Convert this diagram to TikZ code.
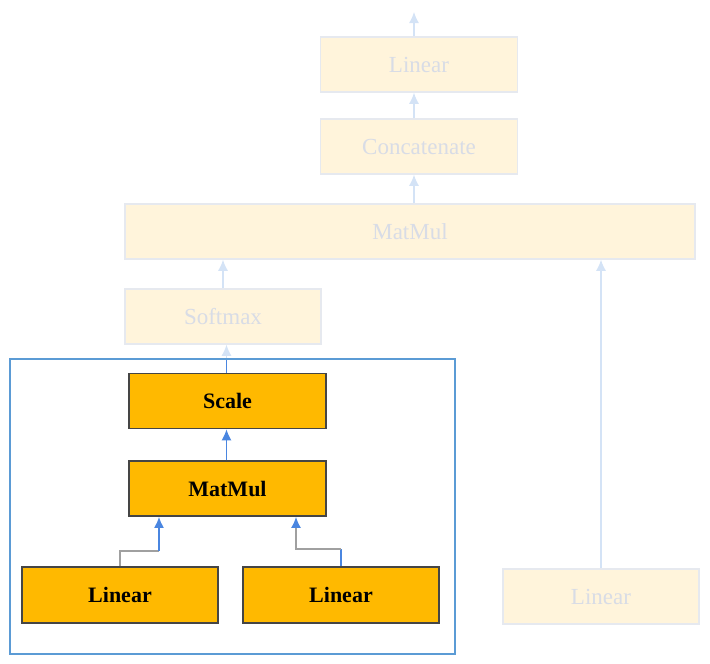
\documentclass[tikz,border=0pt]{standalone}
\usepackage{fontspec}
\setmainfont{Liberation Serif}
\usepackage{tikz}
\usetikzlibrary{arrows.meta, positioning}
\usepackage{xcolor}
\definecolor{gold}{HTML}{FFB900}
\definecolor{goldline}{HTML}{454545}
\definecolor{paleFill}{HTML}{FFF4DB}
\definecolor{paleLine}{HTML}{E6E9EF}
\definecolor{paleText}{HTML}{D8DCE6}
\definecolor{paleArrow}{HTML}{D4E3F6}
\definecolor{linkBlue}{HTML}{4A86E0}
\definecolor{frameBlue}{HTML}{5B9BD5}
\definecolor{linkGrey}{HTML}{A0A0A0}

\begin{document}
\begin{tikzpicture}[x=1pt, y=-1pt,
    hot/.style={draw=goldline, line width=1.6pt, fill=gold, inner sep=0pt,
      minimum width=197pt, minimum height=55pt,
      font=\fontsize{22}{26}\selectfont\bfseries},
    pale/.style={draw=paleLine, line width=1.5pt, fill=paleFill, inner sep=0pt,
      minimum width=197pt, minimum height=55pt, text=paleText,
      font=\fontsize{23}{27}\selectfont},
    paleArr/.style={draw=paleArrow, line width=1.3pt, -{Latex[length=11pt,width=10pt]}},
    hotArr/.style={draw=linkBlue, line width=1.5pt, -{Latex[length=11pt,width=10pt]}}]
  \useasboundingbox (0,0) rectangle (710,664);
  % faded part
  \node[pale] (lin) at (419,64.5) {Linear};
  \node[pale] (cat) at (419,146.5) {Concatenate};
  \node[pale, minimum width=570pt] (mm) at (410,231.5) {MatMul};
  \node[pale, minimum width=196pt] (soft) at (223,316.5) {Softmax};
  \node[pale, minimum width=196pt] (linv) at (601,596.5) {Linear};
  \coordinate (out) at (414,12);
  \coordinate (fr) at (226.5,359);
  \draw[paleArr] (lin.north -| out) -- (out);
  \draw[paleArr] (cat.north -| out) -- (lin.south -| out);
  \draw[paleArr] (mm.north -| out) -- (cat.south -| out);
  \draw[paleArr] (soft) -- (soft |- mm.south);
  \draw[paleArr] (linv) -- (linv |- mm.south);
  % highlighted part
  \node[hot] (sc) at (227.5,401) {Scale};
  \node[hot] (mmq) [below = 31pt of sc] {MatMul};
  \node[hot, minimum width=196pt, minimum height=56pt] (linq) at (120,595) {Linear};
  \node[hot, minimum width=196pt, minimum height=56pt] (link) at (341,595) {Linear};
  \draw[paleArr] (fr) -- (fr |- soft.south);
  \draw[linkBlue, line width=1.5pt] (sc.north -| fr) -- (fr);
  \draw[hotArr] (mmq.north -| fr) -- (sc.south -| fr);
  \coordinate (k1) at (159,551);
  \coordinate (k2) at (296,549);
  \draw[linkGrey, line width=1.3pt] (linq.north) |- (k1);
  \draw[hotArr] (k1) -- (mmq.south -| k1);
  \draw[linkBlue, line width=1.5pt] (link.north) -- (link.north |- k2);
  \draw[linkGrey, line width=1.3pt, -{Latex[length=11pt,width=10pt,color=linkBlue]}]
    (link.north |- k2) -| (mmq.south -| k2);
  \draw[frameBlue, line width=1.2pt] (10,359) rectangle (455,654);
\end{tikzpicture}
\end{document}
